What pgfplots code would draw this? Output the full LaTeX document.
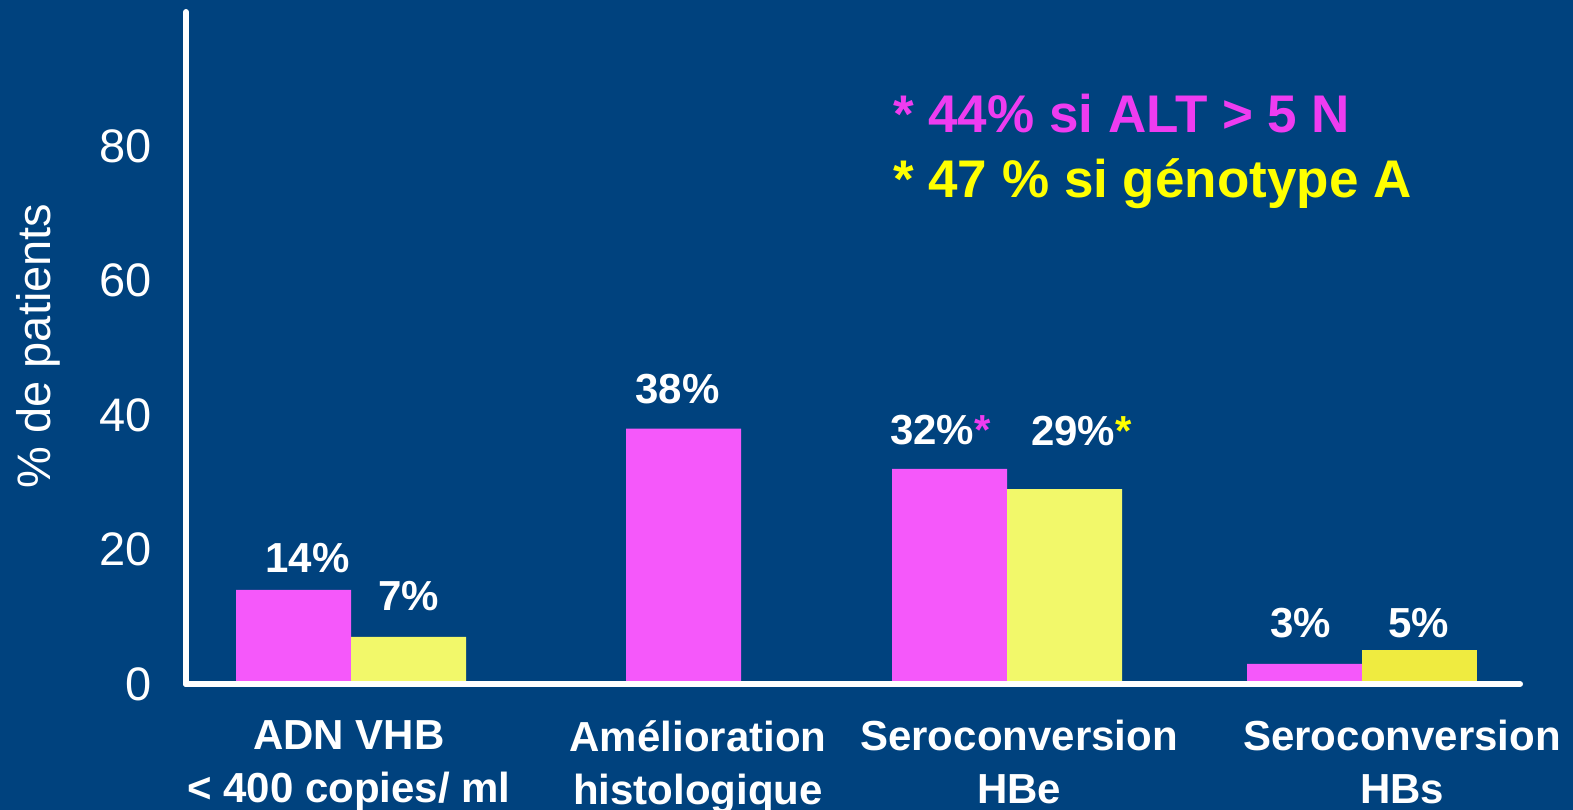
\documentclass[border=0pt]{standalone}
\usepackage{fontspec}
\setmainfont{Liberation Sans}
\usepackage{pgfplots}
\pgfplotsset{compat=1.18}

\definecolor{bgblue}{HTML}{00427E}
\definecolor{barpink}{HTML}{F558FA}
\definecolor{baryellow}{HTML}{F2F86A}
\definecolor{baryellowB}{HTML}{EFEB40}
\definecolor{notepink}{HTML}{EE3CF0}
\definecolor{noteyellow}{HTML}{FFFF00}

\tikzset{lbl/.style={text=white, font=\fontsize{42}{50}\selectfont\bfseries, inner sep=0pt}}

\begin{document}
\begin{tikzpicture}[x=1pt,y=1pt]
\useasboundingbox (0,0) rectangle (1573,810);
\fill[bgblue] (0,0) rectangle (1573,810);

\begin{axis}[
  at={(186pt,126pt)}, anchor=south west,
  width=1334pt, height=672pt, scale only axis,
  xmin=186, xmax=1520, ymin=0, ymax=100,
  axis x line=bottom, axis y line=left,
  axis line style={white, line width=6pt, -, line cap=round},
  axis on top,
  major tick length=0pt,
  ytick={0,20,40,60,80},
  /pgf/number format/assume math mode=true,
  yticklabel style={text=white, font=\fontsize{47}{56}\selectfont,
    anchor=east, inner sep=0pt, xshift=-34pt},
  xtick={349,698,1019,1402},
  xticklabels={{ADN VHB\\< 400 copies/ ml},{Amélioration\\histologique},
               {Seroconversion\\HBe},{Seroconversion\\HBs}},
  xticklabel style={text=white, font=\fontsize{42}{53}\selectfont\bfseries,
    align=center, anchor=north, inner sep=0pt, yshift=-36pt},
  ylabel={\% de patients},
  ylabel style={text=white, font=\fontsize{47}{56}\selectfont,
    at={(axis description cs:-0.111,0.503)}, anchor=center, inner sep=0pt},
  ybar, bar width=115, bar shift=0pt,
  clip=false,
]
% first series (pink)
\addplot[fill=barpink, draw=none] coordinates {(293.5,14) (683.5,38) (949.5,32) (1304.5,3)};
% second series (yellow)
\addplot[fill=baryellow, draw=none] coordinates {(408.5,7) (1064.5,29)};
\addplot[fill=baryellowB, draw=none] coordinates {(1419.5,5)};

% value labels above the bars
\node[lbl, anchor=base] at ([yshift=17pt]axis cs:307.5,14) {14\%};
\node[lbl, anchor=base] at ([yshift=26pt]axis cs:408.5,7) {7\%};
\node[lbl, anchor=base] at ([yshift=25pt]axis cs:677.5,38) {38\%};
\node[lbl, anchor=base west] at ([yshift=24pt]axis cs:890,32) {32\%{\color{notepink}*}};
\node[lbl, anchor=base west] at ([yshift=44pt]axis cs:1031,29) {29\%{\color{noteyellow}*}};
\node[lbl, anchor=base] at ([yshift=26pt]axis cs:1300.5,3) {3\%};
\node[lbl, anchor=base] at ([yshift=13pt]axis cs:1418.5,5) {5\%};
\end{axis}

% footnotes for the starred values
\node[anchor=base west, inner sep=0pt, text=notepink,
      font=\fontsize{53}{60}\selectfont\bfseries] at (893,677) {* 44\% si ALT > 5 N};
\node[anchor=base west, inner sep=0pt, text=noteyellow,
      font=\fontsize{53}{60}\selectfont\bfseries] at (893,612) {* 47 \% si génotype A};
\end{tikzpicture}
\end{document}
